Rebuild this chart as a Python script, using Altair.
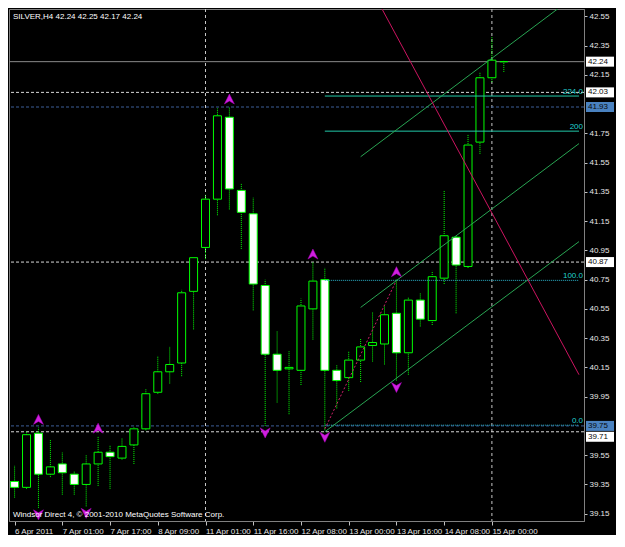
import altair as alt
import pandas as pd

FONT = "Liberation Sans"

symbol_title = "SILVER,H4  42.24 42.25 42.17 42.24"
copyright_text = "Windsor Direct 4, © 2001-2010 MetaQuotes Software Corp."

# ---- candles (H4 bars) ----
bar_index = list(range(42))
opens = [39.37, 39.33, 39.70, 39.42, 39.49, 39.42, 39.35, 39.49, 39.57, 39.53, 39.62,
         39.73, 39.98, 40.12, 40.18, 40.67, 40.97, 41.30, 41.86, 41.36, 41.20, 40.71,
         40.24, 40.14, 40.13, 40.55, 40.75, 40.13, 40.08, 40.20, 40.30, 40.31, 40.52,
         40.25, 40.61, 40.47, 40.76, 41.04, 40.84, 41.69, 42.13, 42.24]
highs = [39.48, 39.71, 39.74, 39.66, 39.57, 39.44, 39.55, 39.68, 39.62, 39.67, 39.74,
         40.00, 40.23, 40.29, 40.68, 40.90, 41.33, 41.92, 41.93, 41.41, 41.31, 40.75,
         40.40, 40.26, 40.62, 40.87, 40.83, 40.17, 40.26, 40.35, 40.53, 40.57, 40.75,
         40.63, 40.66, 40.81, 41.36, 41.05, 41.74, 42.17, 42.41, 42.25]
lows = [39.26, 39.32, 39.19, 39.40, 39.28, 39.28, 39.20, 39.34, 39.32, 39.52, 39.49,
        39.72, 39.97, 40.04, 40.09, 40.41, 40.89, 41.19, 41.23, 40.96, 40.54, 39.75,
        39.91, 39.83, 40.03, 40.34, 39.72, 39.87, 39.99, 40.05, 40.19, 40.17, 40.06,
        40.10, 40.43, 40.44, 40.72, 40.52, 40.83, 41.61, 42.10, 42.17]
closes = [39.33, 39.69, 39.42, 39.47, 39.43, 39.35, 39.49, 39.57, 39.54, 39.61, 39.73,
          39.97, 40.12, 40.17, 40.66, 40.90, 41.30, 41.87, 41.37, 41.21, 40.72, 40.24,
          40.13, 40.15, 40.57, 40.74, 40.13, 40.06, 40.20, 40.29, 40.32, 40.51, 40.25,
          40.61, 40.48, 40.77, 41.05, 40.85, 41.67, 42.13, 42.25, 42.24]

# ---- axes ----
tick_bars = [0, 4, 8, 12, 16, 20, 24, 28, 32, 36, 40]
tick_labels = ["6 Apr 2011", "7 Apr 01:00", "7 Apr 17:00", "8 Apr 09:00", "11 Apr 01:00",
               "11 Apr 16:00", "12 Apr 08:00", "13 Apr 00:00", "13 Apr 16:00",
               "14 Apr 08:00", "15 Apr 00:00"]
# 39.75 and 41.95 sit under the price boxes in the reference
y_ticks = [39.15, 39.35, 39.55, 39.95, 40.15, 40.35, 40.55, 40.75, 40.95,
           41.15, 41.35, 41.55, 41.75, 42.15, 42.35, 42.55]

# ---- fractals ----
fractal_up_bars = [2, 7, 18, 25, 32]
fractal_down_bars = [2, 6, 21, 26, 32]

# ---- horizontal price lines ----
hline_prices = [42.24, 42.03, 41.93, 40.87, 39.71, 39.75]
hline_kinds = ["bid", "white", "blue", "white", "white", "blue"]

# ---- vertical separators ----
separator_bars = [16, 40]

# ---- fibonacci expansion ----
fibo_labels = ["0.0", "100.0", "200", "224.0"]
fibo_prices = [39.755, 40.745, 41.765, 42.005]
fibo_start_bar = 26
fibo_trend_bars = [26, 32]
fibo_trend_prices = [39.73, 40.745]

# ---- trend channel lines ----
channel_names = ["upper", "middle", "lower"]
channel_start_bars = [29, 29, 26]
channel_start_prices = [41.59, 40.56, 39.71]
channel_end_bars = [47.3, 47.3, 47.3]
channel_end_prices = [42.71, 41.68, 41.01]

red_line_bars = [30.0, 47.3]
red_line_prices = [42.72, 40.10]

W, H = 575, 512
X_DOMAIN = [-0.05, 47.3]
Y_DOMAIN = [39.10, 42.60]

candles = pd.DataFrame({"bar": bar_index, "open": opens, "high": highs,
                        "low": lows, "close": closes})

label_expr = "[" + ",".join("'%s'" % s for s in tick_labels) + "][round(datum.value / 4)]"

x_scale = alt.Scale(domain=X_DOMAIN, nice=False, zero=False)
y_scale = alt.Scale(domain=Y_DOMAIN, nice=False, zero=False)
x_axis = alt.Axis(values=tick_bars, labelExpr=label_expr, labelAlign="left", labelPadding=2,
                  tickSize=4, grid=False, title=None, domainColor="#808080",
                  tickColor="#c0c0c0", labelColor="#e6e6e6", labelFont=FONT,
                  labelFontSize=8, labelFlush=False, labelOverlap=False)
y_axis = alt.Axis(orient="right", values=y_ticks, format=".2f", grid=False, title=None,
                  tickSize=3, labelPadding=2, domainColor="#808080", tickColor="#c0c0c0",
                  labelColor="#e6e6e6", labelFont=FONT, labelFontSize=8,
                  labelOverlap=False, labelFlush=False)


def X(field):
    return alt.X(field, scale=x_scale, axis=x_axis)


def Y(field):
    return alt.Y(field, scale=y_scale, axis=y_axis)


wicks = alt.Chart(candles).mark_rule(color="#00ff00", strokeDash=[1, 1], strokeWidth=1).encode(
    x=X("bar:Q"), y=Y("low:Q"), y2="high:Q")

bodies = alt.Chart(candles).mark_bar(size=8, stroke="#00ff00", strokeWidth=1).encode(
    x=X("bar:Q"), y=Y("open:Q"), y2="close:Q",
    fill=alt.condition("datum.close >= datum.open", alt.value("black"), alt.value("white")))

hlines = pd.DataFrame({"price": hline_prices, "kind": hline_kinds})
bid_line = alt.Chart(hlines).transform_filter("datum.kind == 'bid'").mark_rule(
    color="#8a8a8a", strokeWidth=1).encode(y=Y("price:Q"))
white_lines = alt.Chart(hlines).transform_filter("datum.kind == 'white'").mark_rule(
    color="#d8d8d8", strokeWidth=1, strokeDash=[3, 2]).encode(y=Y("price:Q"))
blue_lines = alt.Chart(hlines).transform_filter("datum.kind == 'blue'").mark_rule(
    color="#3d5f98", strokeWidth=1, strokeDash=[3, 2]).encode(y=Y("price:Q"))

seps = alt.Chart(pd.DataFrame({"bar": separator_bars})).mark_rule(
    color="#c8c8c8", strokeWidth=1, strokeDash=[3, 3]).encode(x=X("bar:Q"))

fibo = pd.DataFrame({"label": fibo_labels, "price": fibo_prices,
                     "start": [fibo_start_bar] * len(fibo_labels),
                     "end": [X_DOMAIN[1]] * len(fibo_labels)})
fibo_hi = alt.Chart(fibo).transform_filter("datum.price > 41").mark_rule(
    color="#22c8a8", strokeWidth=1).encode(x=X("start:Q"), x2="end:Q", y=Y("price:Q"))
fibo_lo = alt.Chart(fibo).transform_filter("datum.price < 41").mark_rule(
    color="#2ab4cc", strokeWidth=1, strokeDash=[1, 1]).encode(x=X("start:Q"), x2="end:Q", y=Y("price:Q"))
fibo_text = alt.Chart(fibo).mark_text(align="right", baseline="bottom", dy=0, font=FONT,
                                      fontSize=8, color="#20d0d0").encode(
    x=alt.value(W - 1), y=Y("price:Q"), text="label:N")

trend = pd.DataFrame({"bar": fibo_trend_bars, "price": fibo_trend_prices})
fibo_trend = alt.Chart(trend).mark_line(color="#d0206a", strokeWidth=1, strokeDash=[2, 2]).encode(
    x=X("bar:Q"), y=Y("price:Q"))

chan_rows = []
for n, sb, sp, eb, ep in zip(channel_names, channel_start_bars, channel_start_prices,
                             channel_end_bars, channel_end_prices):
    chan_rows.append({"name": n, "bar": sb, "price": sp})
    chan_rows.append({"name": n, "bar": eb, "price": ep})
channels = alt.Chart(pd.DataFrame(chan_rows)).mark_line(
    color="#28a452", strokeWidth=1, clip=True).encode(
    x=X("bar:Q"), y=Y("price:Q"), detail="name:N")

red_line = alt.Chart(pd.DataFrame({"bar": red_line_bars, "price": red_line_prices})).mark_line(
    color="#cc1460", strokeWidth=1, clip=True).encode(x=X("bar:Q"), y=Y("price:Q"))

up_df = pd.DataFrame({"bar": fractal_up_bars,
                      "price": [highs[i] for i in fractal_up_bars]})
down_df = pd.DataFrame({"bar": fractal_down_bars,
                        "price": [lows[i] for i in fractal_down_bars]})
up_arrows = alt.Chart(up_df).mark_point(
    shape="M0,-1L1,1L0,0.4L-1,1Z", filled=True, color="#d020e0", size=100,
    opacity=1, stroke="#b000c0", strokeWidth=0.5, yOffset=-8).encode(x=X("bar:Q"), y=Y("price:Q"))
down_arrows = alt.Chart(down_df).mark_point(
    shape="M0,1L1,-1L0,-0.4L-1,-1Z", filled=True, color="#d020e0", size=100,
    opacity=1, stroke="#b000c0", strokeWidth=0.5, yOffset=7).encode(x=X("bar:Q"), y=Y("price:Q"))

box_scale = alt.Scale(domain=["bid", "white", "blue"], range=["#ffffff", "#ffffff", "#4a82c0"])
main_boxes = hlines[hlines["price"] != 39.71]
low_box = hlines[hlines["price"] == 39.71]

price_boxes = alt.Chart(main_boxes).mark_tick(orient="horizontal", size=28, thickness=10,
                                              opacity=1).encode(
    x=alt.value(W + 16), y=Y("price:Q"),
    color=alt.Color("kind:N", scale=box_scale, legend=None))
price_box_text = alt.Chart(main_boxes).mark_text(align="left", baseline="middle", font=FONT,
                                                 fontSize=8, color="#0a0a0a").encode(
    x=alt.value(W + 4), y=Y("price:Q"), text=alt.Text("price:Q", format=".2f"))

# the 39.71 box sits just under the 39.75 box
low_box_rect = alt.Chart(low_box).mark_tick(orient="horizontal", size=28, thickness=10,
                                            opacity=1, yOffset=5).encode(
    x=alt.value(W + 16), y=Y("price:Q"),
    color=alt.Color("kind:N", scale=box_scale, legend=None))
low_box_text = alt.Chart(low_box).mark_text(align="left", baseline="middle", font=FONT,
                                            fontSize=8, color="#0a0a0a", dy=5).encode(
    x=alt.value(W + 4), y=Y("price:Q"), text=alt.Text("price:Q", format=".2f"))

title_txt = alt.Chart(pd.DataFrame({"t": [symbol_title]})).mark_text(
    align="left", baseline="top", font=FONT, fontSize=8, color="#ffffff").encode(
    x=alt.value(4), y=alt.value(4), text="t:N")
copy_txt = alt.Chart(pd.DataFrame({"t": [copyright_text]})).mark_text(
    align="left", baseline="bottom", font=FONT, fontSize=8, color="#ffffff").encode(
    x=alt.value(4), y=alt.value(H - 2), text="t:N")

chart = alt.layer(
    seps, bid_line, white_lines, blue_lines,
    wicks, bodies,
    fibo_hi, fibo_lo, fibo_trend, channels, red_line, fibo_text,
    up_arrows, down_arrows,
    low_box_rect, low_box_text, price_boxes, price_box_text,
    title_txt, copy_txt,
).properties(width=W, height=H, padding={"left": 0, "top": 0, "right": 2, "bottom": 0}
).configure(background="black").configure_view(stroke="#808080", strokeWidth=1, fill="black")

chart.save("out.html", embed_options={"renderer": "svg", "actions": False})
